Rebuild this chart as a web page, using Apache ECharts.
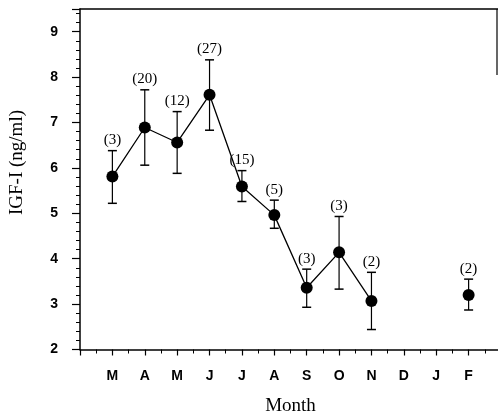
<!DOCTYPE html>
<html><head><meta charset="utf-8">
<script src="https://cdn.jsdelivr.net/npm/echarts@6/dist/echarts.min.js"></script>
<style>html,body{margin:0;padding:0;background:#fff}#c{width:498px;height:417px}</style>
</head><body><div id="c"></div>
<script>
const months = ['M','A','M','J','J','A','S','O','N','D','J','F'];
const means  = [5.81,6.89,6.56,7.61,5.59,4.96,3.36,4.14,3.07,null,null,3.20];
const upper  = [6.38,7.72,7.24,8.38,5.94,5.29,3.77,4.93,3.70,null,null,3.55];
const lower  = [5.22,6.06,5.88,6.83,5.26,4.67,2.93,3.33,2.44,null,null,2.87];
const counts = [3,20,12,27,15,5,3,3,2,null,null,2];
const yTicks = [2,3,4,5,6,7,8,9];

const lineData = means.map((v,i)=>[i+1, v]);
const errData = [];
means.forEach((v,i)=>{ if(v!==null) errData.push([i+1, lower[i], upper[i], counts[i]]); });

const chart = echarts.init(document.getElementById('c'), null, {renderer:'canvas'});
chart.setOption({
  backgroundColor:'#fff',
  animation:false,
  grid:{left:80, right:-3, top:9, bottom:67.5, containLabel:false, outerBoundsMode:'none'},
  xAxis:[{
    type:'value', min:0, max:13, interval:1,
    name:'Month', nameLocation:'middle', nameGap:47,
    nameTextStyle:{fontFamily:'Liberation Serif', fontSize:19, color:'#000'},
    axisLine:{show:true, onZero:false, lineStyle:{color:'#000', width:1.5}},
    axisTick:{show:true, length:6, lineStyle:{color:'#000', width:1.2}},
    minorTick:{show:true, splitNumber:2, length:4, lineStyle:{color:'#000', width:1}},
    splitLine:{show:false},
    axisLabel:{margin:20, fontFamily:'Liberation Sans', fontWeight:'bold', fontSize:14, color:'#000',
      formatter:v=> (Number.isInteger(v) && v>=1 && v<=months.length) ? months[v-1] : ''}
  },{
    type:'value', min:0, max:13, position:'top',
    axisLine:{show:true, onZero:false, lineStyle:{color:'#000', width:1.5}},
    axisTick:{show:false}, axisLabel:{show:false}, splitLine:{show:false}
  }],
  yAxis:{
    type:'value', min:2, max:9.5, interval:1,
    axisLine:{show:true, onZero:false, lineStyle:{color:'#000', width:1.5}},
    axisTick:{show:true, length:8, lineStyle:{color:'#000', width:1.2}},
    minorTick:{show:true, splitNumber:5, length:4, lineStyle:{color:'#000', width:1}},
    splitLine:{show:false},
    axisLabel:{margin:22, fontFamily:'Liberation Sans', fontWeight:'bold', fontSize:14, color:'#000',
      formatter:v=> yTicks.includes(v) ? String(v) : ''}
  },
  graphic:[
    {type:'text', left:8, top:110, rotation:Math.PI/2, style:{text:'IGF-I (ng/ml)', font:'19px "Liberation Serif"', fill:'#000'}},
    {type:'line', shape:{x1:497, y1:9, x2:497, y2:75}, style:{stroke:'#000', lineWidth:1.2}}
  ],
  series:[
    {
      type:'custom', xAxisIndex:0, yAxisIndex:0,
      data:errData,
      renderItem:function(params, api){
        const x = api.value(0);
        const lo = api.coord([x, api.value(1)]);
        const hi = api.coord([x, api.value(2)]);
        const w = 4.5;
        return {type:'group', children:[
          {type:'line', shape:{x1:lo[0], y1:lo[1], x2:hi[0], y2:hi[1]}, style:{stroke:'#000', lineWidth:1.2}},
          {type:'line', shape:{x1:hi[0]-w, y1:hi[1], x2:hi[0]+w, y2:hi[1]}, style:{stroke:'#000', lineWidth:1.5}},
          {type:'line', shape:{x1:lo[0]-w, y1:lo[1], x2:lo[0]+w, y2:lo[1]}, style:{stroke:'#000', lineWidth:1.5}},
          {type:'text', style:{text:'('+api.value(3)+')', x:hi[0], y:hi[1]-3, textAlign:'center', textVerticalAlign:'bottom',
            font:'15px "Liberation Serif"', fill:'#000'}}
        ]};
      },
      z:2
    },
    {
      type:'line', data:lineData, connectNulls:false,
      symbol:'circle', symbolSize:12, showSymbol:true,
      lineStyle:{color:'#000', width:1.3},
      itemStyle:{color:'#000'},
      z:3
    }
  ]
});
</script></body></html>
